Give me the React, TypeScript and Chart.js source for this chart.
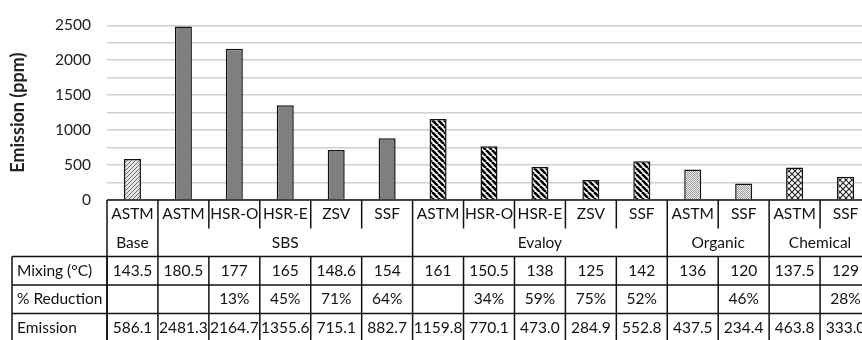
import React, { useEffect, useRef } from 'react';
import { Chart, registerables } from 'chart.js';

Chart.register(...registerables);

const categories = ['ASTM', 'ASTM', 'HSR-O', 'HSR-E', 'ZSV', 'SSF', 'ASTM', 'HSR-O', 'HSR-E', 'ZSV', 'SSF', 'ASTM', 'SSF', 'ASTM', 'SSF'];
const groupNames = ['Base', 'SBS', 'Evaloy', 'Organic', 'Chemical'];
const groupSizes = [1, 5, 5, 2, 2];
const emission = [586.1, 2481.3, 2164.7, 1355.6, 715.1, 882.7, 1159.8, 770.1, 473.0, 284.9, 552.8, 437.5, 234.4, 463.8, 333.0];
const mixing = ['143.5', '180.5', '177', '165', '148.6', '154', '161', '150.5', '138', '125', '142', '136', '120', '137.5', '129'];
const reduction = ['', '', '13%', '45%', '71%', '64%', '', '34%', '59%', '75%', '52%', '', '46%', '', '28%'];
const rowLabels = ['Mixing (°C)', '% Reduction', 'Emission'];
const yMax = 2500;
const yMinorStep = 250;
const yLabelStep = 500;

const FONT = 'Lato, "Open Sans", sans-serif';

function makePattern(kind: string): CanvasPattern | string {
  const c = document.createElement('canvas');
  const g = c.getContext('2d')!;
  if (kind === 'base') {
    const n = 4;
    c.width = n; c.height = n;
    g.fillStyle = '#e6e6e6';
    g.fillRect(0, 0, n, n);
    g.strokeStyle = '#6e6e6e';
    g.lineWidth = 1;
    for (const o of [-n, 0, n]) {
      g.beginPath();
      g.moveTo(o, n);
      g.lineTo(o + n, 0);
      g.stroke();
    }
  } else if (kind === 'sbs') {
    return '#7f7f7f';
  } else if (kind === 'evaloy') {
    const n = 6;
    c.width = n; c.height = n;
    g.fillStyle = '#ffffff';
    g.fillRect(0, 0, n, n);
    g.strokeStyle = '#000000';
    g.lineWidth = 2.6;
    for (const o of [-n, 0, n]) {
      g.beginPath();
      g.moveTo(o, 0);
      g.lineTo(o + n, n);
      g.stroke();
    }
  } else if (kind === 'organic') {
    const n = 2;
    c.width = n; c.height = n;
    g.fillStyle = '#f0f0f0';
    g.fillRect(0, 0, n, n);
    g.fillStyle = '#9a9a9a';
    g.fillRect(0, 0, 1, 1);
    g.fillRect(1, 1, 1, 1);
  } else {
    const n = 6;
    c.width = n; c.height = n;
    g.fillStyle = '#ffffff';
    g.fillRect(0, 0, n, n);
    g.strokeStyle = '#222222';
    g.lineWidth = 1.1;
    for (const o of [-n, 0, n]) {
      g.beginPath();
      g.moveTo(o, 0);
      g.lineTo(o + n, n);
      g.stroke();
      g.beginPath();
      g.moveTo(o, n);
      g.lineTo(o + n, 0);
      g.stroke();
    }
  }
  return g.createPattern(c, 'repeat')!;
}

const tablePlugin = {
  id: 'dataTable',
  afterDraw(chart: any) {
    const { ctx, chartArea } = chart;
    const xs = chart.scales.x;
    const n = categories.length;
    const c0 = xs.getPixelForValue(0);
    const colW = xs.getPixelForValue(1) - c0;
    const edge = (i: number) => c0 - colW / 2 + i * colW;
    const center = (i: number) => xs.getPixelForValue(i);
    const y0 = chartArea.bottom;
    const rowsY = [y0, y0 + 28.5, y0 + 56.5, y0 + 85, y0 + 113.5, y0 + 142];
    const labelLeft = 12;
    const rightEdge = edge(n);

    ctx.save();
    ctx.strokeStyle = '#111111';
    ctx.lineWidth = 1.5;
    const line = (x1: number, y1: number, x2: number, y2: number) => {
      ctx.beginPath();
      ctx.moveTo(x1, y1);
      ctx.lineTo(x2, y2);
      ctx.stroke();
    };
    line(edge(0), y0, rightEdge, y0);
    const boundaries = new Set<number>([0]);
    let acc = 0;
    groupSizes.forEach((s) => { acc += s; boundaries.add(acc); });
    for (let i = 0; i <= n; i++) {
      if (boundaries.has(i)) {
        line(edge(i), y0, edge(i), rowsY[5]);
      } else {
        line(edge(i), y0, edge(i), rowsY[1]);
        line(edge(i), rowsY[2], edge(i), rowsY[5]);
      }
    }
    for (let r = 2; r <= 5; r++) line(labelLeft, rowsY[r], rightEdge, rowsY[r]);
    line(labelLeft, rowsY[2], labelLeft, rowsY[5]);
    line(edge(0), rowsY[2], edge(0), rowsY[5]);

    ctx.fillStyle = '#111111';
    ctx.font = `15.5px ${FONT}`;
    ctx.textBaseline = 'middle';
    ctx.textAlign = 'center';
    const mid = (r: number) => (rowsY[r] + rowsY[r + 1]) / 2;
    categories.forEach((t, i) => ctx.fillText(t, center(i), mid(0)));
    let start = 0;
    groupNames.forEach((g, gi) => {
      const s = groupSizes[gi];
      const cx = (edge(start) + edge(start + s)) / 2;
      ctx.fillText(g, cx, mid(1));
      start += s;
    });
    const rows = [mixing, reduction, emission.map((v) => v.toFixed(1))];
    rows.forEach((vals, r) => {
      vals.forEach((t, i) => ctx.fillText(t, center(i), mid(2 + r)));
    });
    ctx.textAlign = 'left';
    rowLabels.forEach((t, r) => ctx.fillText(t, labelLeft + 5, mid(2 + r)));
    ctx.restore();
  },
};

export default function App() {
  const ref = useRef<HTMLCanvasElement | null>(null);
  useEffect(() => {
    document.body.style.margin = '0';
    const canvas = ref.current!;
    const kinds: string[] = [];
    groupSizes.forEach((s, gi) => {
      const k = ['base', 'sbs', 'evaloy', 'organic', 'chemical'][gi];
      for (let i = 0; i < s; i++) kinds.push(k);
    });
    const cache: Record<string, any> = {};
    const fills = kinds.map((k) => (cache[k] = cache[k] || makePattern(k)));
    const chart = new Chart(canvas, {
      type: 'bar',
      data: {
        labels: categories,
        datasets: [
          {
            data: emission,
            backgroundColor: fills,
            borderColor: '#111111',
            borderWidth: 1.5,
            borderSkipped: 'bottom',
            barPercentage: 0.334,
            categoryPercentage: 1,
          },
        ],
      },
      options: {
        responsive: false,
        animation: false,
        layout: { padding: { top: 19, bottom: 140, left: 0, right: 1 } },
        plugins: { legend: { display: false }, tooltip: { enabled: false } },
        scales: {
          x: { display: false },
          y: {
            min: 0,
            max: yMax,
            afterFit: (scale: any) => { scale.width = 107; },
            border: { display: false },
            grid: { color: '#d0d0d0', lineWidth: 1.5, drawTicks: false },
            ticks: {
              stepSize: yMinorStep,
              autoSkip: false,
              padding: 16,
              color: '#222222',
              font: { family: FONT, size: 15.5 },
              callback: (v: any) => (Number(v) % yLabelStep === 0 ? String(v) : ''),
            },
            title: {
              display: true,
              text: 'Emission (ppm)',
              color: '#222222',
              font: { family: FONT, size: 18, weight: 'bold' },
              padding: { top: 7, bottom: 0 },
            },
          },
        },
      },
      plugins: [tablePlugin],
    });
    return () => chart.destroy();
  }, []);
  return (
    <div style={{ position: 'fixed', left: 0, top: 0, width: 862, height: 340, overflow: 'hidden', background: '#fff' }}>
      <canvas ref={ref} width={872} height={340} style={{ display: 'block', width: 872, height: 340 }} />
    </div>
  );
}
